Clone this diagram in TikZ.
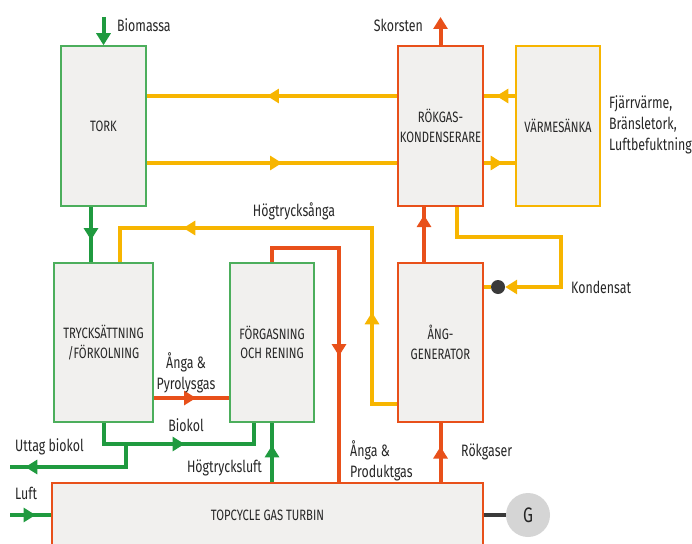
\documentclass[tikz,border=0pt]{standalone}
\usepackage{fontspec}
\setmainfont[FakeStretch=0.75]{Fira Sans}
\usetikzlibrary{arrows.meta,decorations.markings,calc}
\definecolor{gcol}{HTML}{1F9A3F}
\definecolor{gbord}{HTML}{4CAE5C}
\definecolor{ocol}{HTML}{F7B500}
\definecolor{rcol}{HTML}{E8501A}
\definecolor{boxfill}{HTML}{F1F0EE}
\definecolor{txt}{HTML}{262626}
\definecolor{dotcol}{HTML}{3A3A3A}
\definecolor{gfill}{HTML}{D5D5D5}
\newcommand\lblfont{\fontsize{16.5}{21}\selectfont}
\newcommand\boxfont{\fontsize{15}{19.5}\selectfont}
\tikzset{
  tipA/.tip={Triangle[width=14pt,length=12pt]},
  box/.style={draw, fill=boxfill, line width=1.5pt, inner sep=0pt, align=center, font=\boxfont, text=txt},
  gbox/.style={box, draw=gbord},
  rbox/.style={box, draw=rcol},
  obox/.style={box, draw=ocol},
  gline/.style={draw=gcol, line width=4pt},
  oline/.style={draw=ocol, line width=4pt},
  rline/.style={draw=rcol, line width=4pt},
  fl/.style={postaction={decorate,decoration={markings,mark=at position #1 with {\arrow{tipA}}}}},
  lbl/.style={font=\lblfont, text=txt, inner sep=0pt},
}
\begin{document}
\begin{tikzpicture}[x=1pt,y=-1pt]
\useasboundingbox (0,0) rectangle (692,543);
% boxes
\node[gbox, minimum width=85pt, minimum height=160pt] (tork) at (103.5,126) {TORK};
\node[rbox, minimum width=85pt, minimum height=160pt] (rok) at (440.5,126) {RÖKGAS-\\KONDENSERARE};
\node[obox, minimum width=84pt, minimum height=160pt] (varm) at (558,126) {VÄRMESÄNKA};
\node[gbox, minimum width=99pt, minimum height=159pt] (tryck) at (103.5,342.5) {TRYCKSÄTTNING\\/FÖRKOLNING};
\node[gbox, minimum width=84pt, minimum height=159pt] (forg) at (272,342.5) {FÖRGASNING\\OCH RENING};
\node[rbox, minimum width=85pt, minimum height=159pt] (ang) at (440.5,342.5) {ÅNG-\\GENERATOR};
\node[rbox, minimum width=431pt, minimum height=64pt] (top) at (267.5,515) {TOPCYCLE GAS TURBIN};
\node[circle, fill=gfill, minimum size=44pt, inner sep=0pt, font=\fontsize{21}{21}\selectfont, text=txt] (gen) at (528,515) {G};
\node[circle, fill=dotcol, minimum size=14pt, inner sep=0pt] (dot) at (498,287) {};
% coordinates
\coordinate (bio) at (103.5,17);
\coordinate (sk) at (440.5,17);
\coordinate (k1) at (561,237);
\coordinate (h1) at (372,228);
\coordinate (p1) at (339,248);
\coordinate (b1) at (103.5,444);
\coordinate (u0) at (126,444);
\coordinate (u1) at (10,467);
\coordinate (l0) at (10,515);
% green
\draw[gline, -{tipA}] (bio) -- (tork.north);
\draw[gline, fl=0.6] ([xshift=-12.5pt]tork.south) -- ([xshift=-12.5pt]tryck.north);
\draw[gline, fl=0.53] (tryck.south) -- (b1) -| ([xshift=-18pt]forg.south);
\draw[gline, fl=0.89] (u0) |- (u1);
\draw[gline, fl=0.62] (l0) -- (top.west);
\draw[gline, fl=0.62] (forg.south |- top.north) -- (forg.south);
% orange
\draw[oline, fl=0.52] ([yshift=30pt]rok.west) -- ([yshift=30pt]tork.east);
\draw[oline, fl=0.6] ([yshift=30pt]varm.west) -- ([yshift=30pt]rok.east);
\draw[oline, fl=0.54] ([yshift=-37pt]tork.east) -- ([yshift=-37pt]rok.west);
\draw[oline, fl=0.6] ([yshift=-37pt]rok.east) -- ([yshift=-37pt]varm.west);
\draw[oline, -{tipA}] ([xshift=16.5pt]rok.south) |- (k1) |- (dot);
\draw[oline] (dot) -- (ang.east |- dot);
\draw[oline, fl=0.24, fl=0.8] ([yshift=-61.5pt]ang.west) -| (h1) -| ([xshift=16.5pt]tryck.north);
% red
\draw[rline, -{tipA}] (rok.north) -- (sk);
\draw[rline, fl=0.85] ([xshift=-16.5pt]ang.north) -- ([xshift=-16.5pt]rok.south);
\draw[rline, fl=0.56] ([yshift=-55.5pt]tryck.east) -- ([yshift=-55.5pt]forg.west);
\draw[rline, fl=0.6] (forg.north) |- (p1) -- ([xshift=71.5pt]top.north);
\draw[rline, fl=0.6] (ang.south |- top.north) -- (ang.south);
% generator link
\draw[draw=dotcol, line width=4pt] (top.east) -- (gen);
% labels
\node[lbl, anchor=west] (l-bio) at (117,25) {Biomassa};
\node[lbl, anchor=east] (l-sk) at (423,25) {Skorsten};
\node[lbl, anchor=west, align=left] (l-fj) at (609,125) {Fjärrvärme,\\Bränsletork,\\Luftbefuktning};
\node[lbl] (l-hs) at (294,211) {Högtrycksånga};
\node[lbl, anchor=west] (l-ko) at (571,287) {Kondensat};
\node[lbl, align=center] (l-ap) at (186,373) {Ånga \&\\Pyrolysgas};
\node[lbl] (l-bk) at (186,425) {Biokol};
\node[lbl, anchor=west] (l-ut) at (15,447) {Uttag biokol};
\node[lbl, anchor=east] (l-hl) at (262,468) {Högtrycksluft};
\node[lbl, anchor=west] (l-lu) at (15,493) {Luft};
\node[lbl, anchor=west, align=left] (l-pg) at (350,461) {Ånga \&\\Produktgas};
\node[lbl, anchor=west] (l-rg) at (461,452) {Rökgaser};
\end{tikzpicture}
\end{document}
